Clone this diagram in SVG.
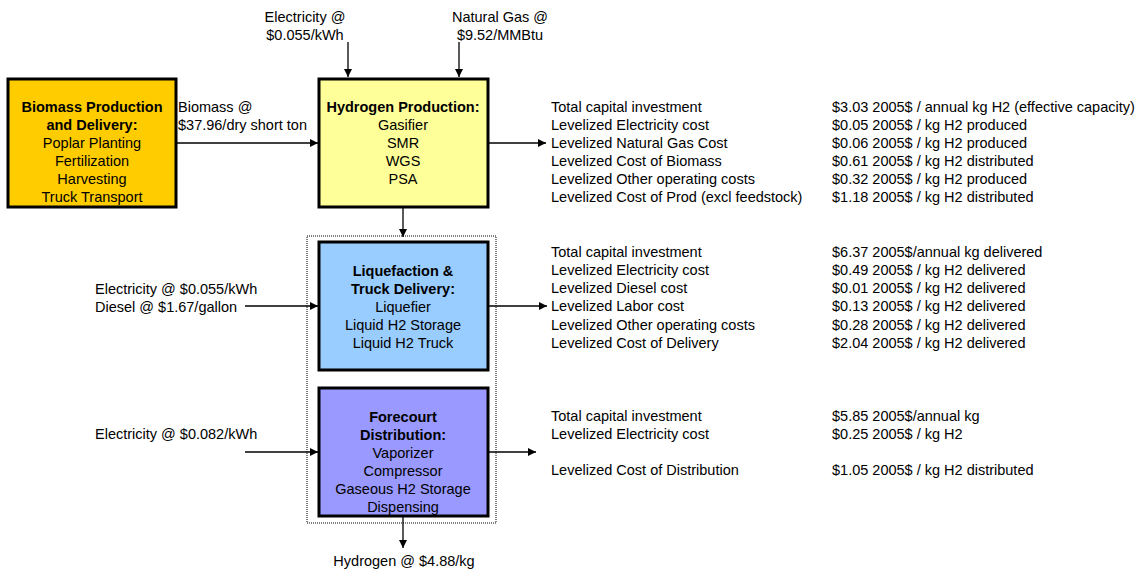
<svg xmlns="http://www.w3.org/2000/svg" width="1141" height="571" viewBox="0 0 1141 571">
<style>
text{font-family:"Liberation Sans",Arial,sans-serif;font-size:14.5px;fill:#000}
.c{text-anchor:middle}
.b{font-weight:bold}
.box{stroke:#000;stroke-width:3}
.ln{stroke:#000;stroke-width:1.3;fill:none}
</style>
<defs>
<marker id="ah" viewBox="0 0 10 10" refX="10" refY="5" markerWidth="8" markerHeight="8" markerUnits="userSpaceOnUse" orient="auto">
<path d="M0,0 L10,5 L0,10 z" fill="#000"/>
</marker>
</defs>
<rect x="307" y="236" width="189" height="287" fill="none" stroke="#000" stroke-width="1" stroke-dasharray="1,1"/>
<g id="connectors">
<line class="ln" x1="176" y1="143" x2="318" y2="143" marker-end="url(#ah)"/>
<line class="ln" x1="348" y1="42" x2="348" y2="77" marker-end="url(#ah)"/>
<line class="ln" x1="459" y1="42" x2="459" y2="77" marker-end="url(#ah)"/>
<line class="ln" x1="488" y1="143" x2="546" y2="143" marker-end="url(#ah)"/>
<line class="ln" x1="403" y1="207" x2="403" y2="237" marker-end="url(#ah)"/>
<line class="ln" x1="245" y1="306" x2="318" y2="306" marker-end="url(#ah)"/>
<line class="ln" x1="488" y1="306" x2="547" y2="306" marker-end="url(#ah)"/>
<line class="ln" x1="245" y1="452" x2="318" y2="452" marker-end="url(#ah)"/>
<line class="ln" x1="488" y1="452" x2="536" y2="452" marker-end="url(#ah)"/>
<line class="ln" x1="403" y1="516" x2="403" y2="548" marker-end="url(#ah)"/>
</g>
<g id="biomass">
<rect class="box" x="8" y="79" width="168" height="128" fill="#FFCC00"/>
<text class="c b" x="92" y="112">Biomass Production</text>
<text class="c b" x="92" y="130">and Delivery:</text>
<text class="c" x="92" y="148">Poplar Planting</text>
<text class="c" x="92" y="166">Fertilization</text>
<text class="c" x="92" y="184">Harvesting</text>
<text class="c" x="92" y="202">Truck Transport</text>
</g>
<g id="h2prod">
<rect class="box" x="319" y="79" width="169" height="128" fill="#FFFF99"/>
<text class="c b" x="403" y="112">Hydrogen Production:</text>
<text class="c" x="403" y="130">Gasifier</text>
<text class="c" x="403" y="148">SMR</text>
<text class="c" x="403" y="166">WGS</text>
<text class="c" x="403" y="184">PSA</text>
</g>
<g id="liquefaction">
<rect class="box" x="319" y="242" width="169" height="128" fill="#99CCFF"/>
<text class="c b" x="403" y="276">Liquefaction &amp;</text>
<text class="c b" x="403" y="294">Truck Delivery:</text>
<text class="c" x="403" y="312">Liquefier</text>
<text class="c" x="403" y="330">Liquid H2 Storage</text>
<text class="c" x="403" y="348">Liquid H2 Truck</text>
</g>
<g id="forecourt">
<rect class="box" x="319" y="388" width="169" height="128" fill="#9999FF"/>
<text class="c b" x="403" y="422">Forecourt</text>
<text class="c b" x="403" y="440">Distribution:</text>
<text class="c" x="403" y="458">Vaporizer</text>
<text class="c" x="403" y="476">Compressor</text>
<text class="c" x="403" y="494">Gaseous H2 Storage</text>
<text class="c" x="403" y="512">Dispensing</text>
</g>
<g id="inputs">
<text class="c" x="305" y="22">Electricity @</text>
<text class="c" x="305" y="40">$0.055/kWh</text>
<text class="c" x="500" y="22">Natural Gas @</text>
<text class="c" x="500" y="40">$9.52/MMBtu</text>
<text x="178" y="112">Biomass @</text>
<text x="178" y="130">$37.96/dry short ton</text>
<text x="95" y="294">Electricity @ $0.055/kWh</text>
<text x="95" y="312">Diesel @ $1.67/gallon</text>
<text x="95" y="439">Electricity @ $0.082/kWh</text>
<text class="c" x="404" y="566">Hydrogen @ $4.88/kg</text>
</g>
<g id="results-production">
<text x="551" y="112">Total capital investment</text>
<text x="551" y="130">Levelized Electricity cost</text>
<text x="551" y="148">Levelized Natural Gas Cost</text>
<text x="551" y="166">Levelized Cost of Biomass</text>
<text x="551" y="184">Levelized Other operating costs</text>
<text x="551" y="202">Levelized Cost of Prod (excl feedstock)</text>
<text x="832" y="112">$3.03 2005$ / annual kg H2 (effective capacity)</text>
<text x="832" y="130">$0.05 2005$ / kg H2 produced</text>
<text x="832" y="148">$0.06 2005$ / kg H2 produced</text>
<text x="832" y="166">$0.61 2005$ / kg H2 distributed</text>
<text x="832" y="184">$0.32 2005$ / kg H2 produced</text>
<text x="832" y="202">$1.18 2005$ / kg H2 distributed</text>
</g>
<g id="results-delivery">
<text x="551" y="257">Total capital investment</text>
<text x="551" y="275">Levelized Electricity cost</text>
<text x="551" y="293">Levelized Diesel cost</text>
<text x="551" y="311">Levelized Labor cost</text>
<text x="551" y="330">Levelized Other operating costs</text>
<text x="551" y="348">Levelized Cost of Delivery</text>
<text x="832" y="257">$6.37 2005$/annual kg delivered</text>
<text x="832" y="275">$0.49 2005$ / kg H2 delivered</text>
<text x="832" y="293">$0.01 2005$ / kg H2 delivered</text>
<text x="832" y="311">$0.13 2005$ / kg H2 delivered</text>
<text x="832" y="330">$0.28 2005$ / kg H2 delivered</text>
<text x="832" y="348">$2.04 2005$ / kg H2 delivered</text>
</g>
<g id="results-distribution">
<text x="551" y="421">Total capital investment</text>
<text x="551" y="439">Levelized Electricity cost</text>
<text x="551" y="475">Levelized Cost of Distribution</text>
<text x="832" y="421">$5.85 2005$/annual kg</text>
<text x="832" y="439">$0.25 2005$ / kg H2</text>
<text x="832" y="475">$1.05 2005$ / kg H2 distributed</text>
</g>
</svg>
